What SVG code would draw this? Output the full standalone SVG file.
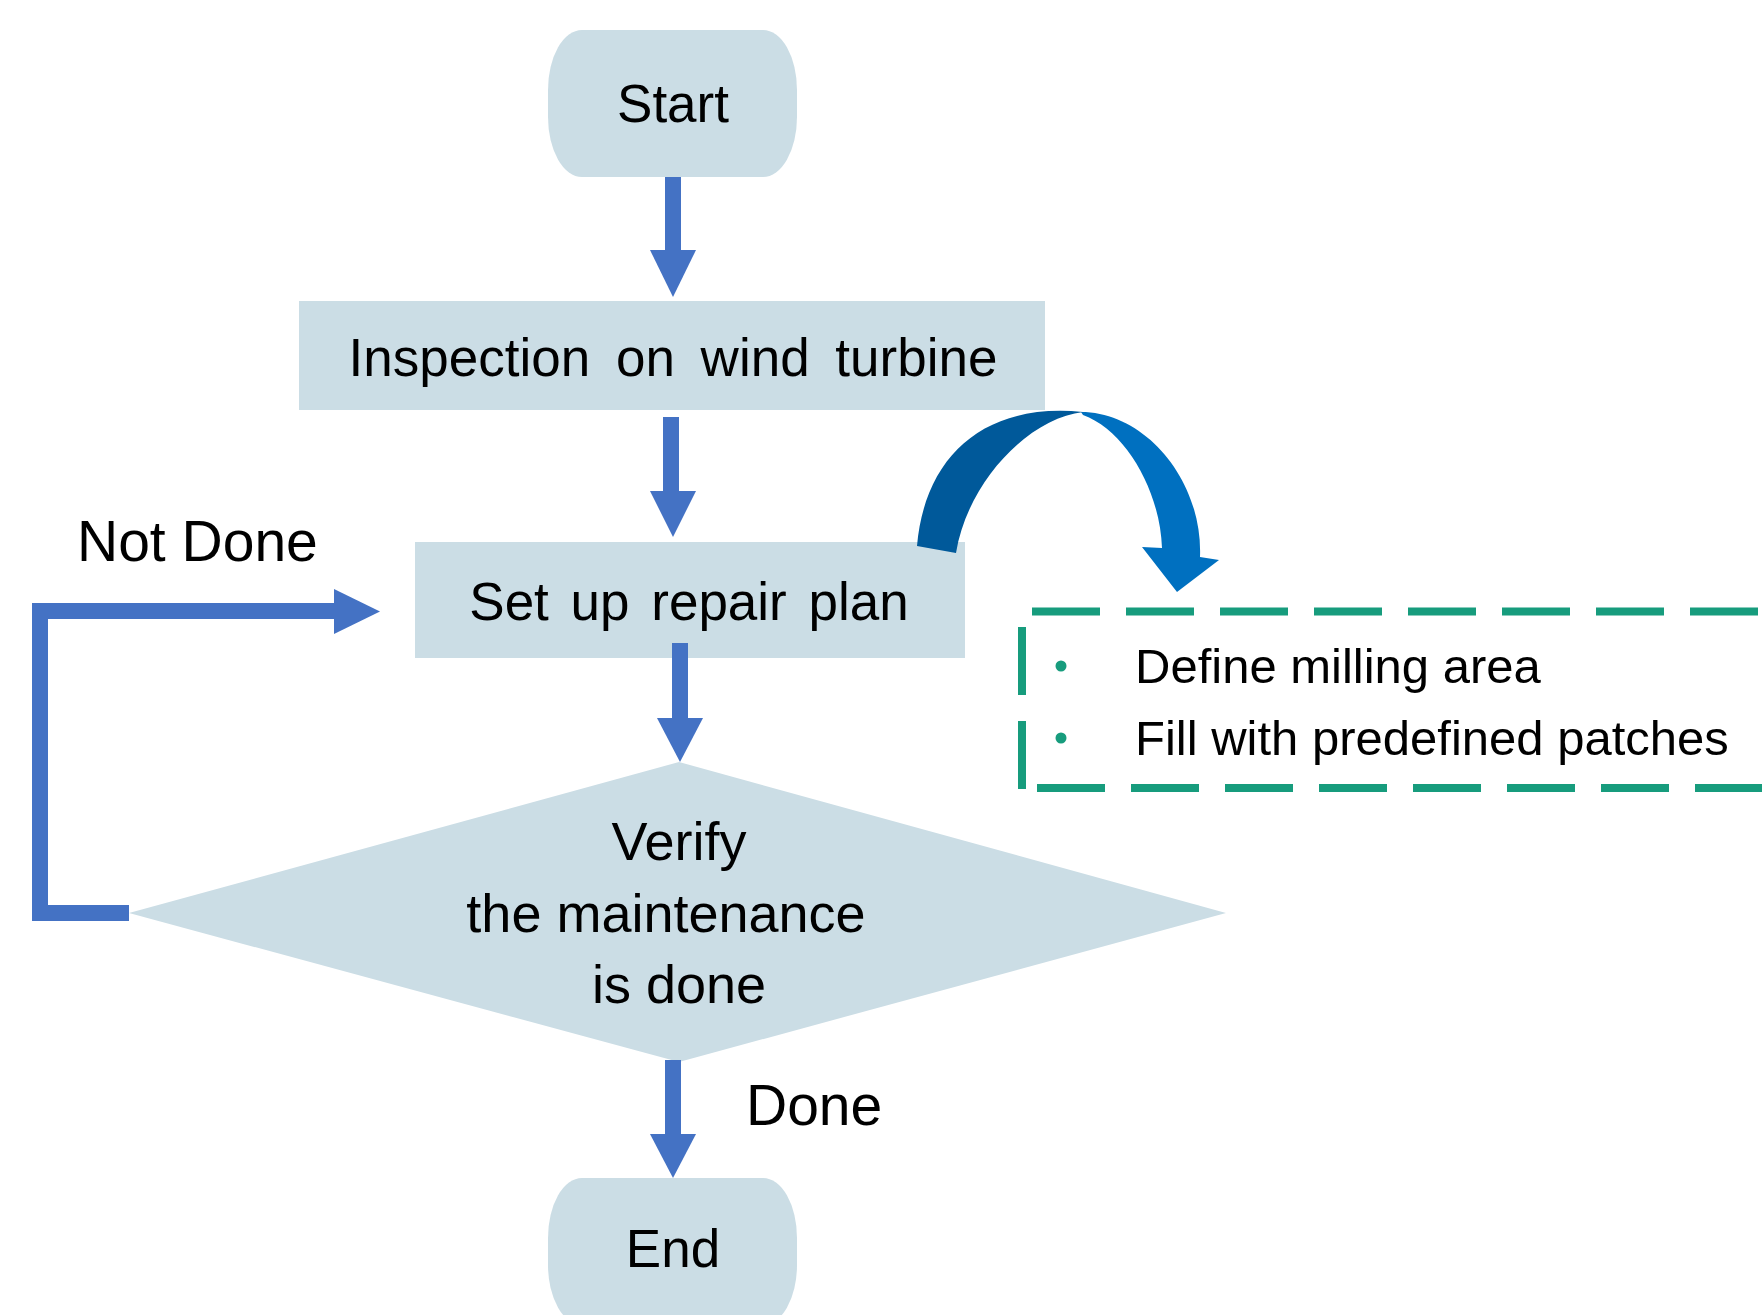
<svg xmlns="http://www.w3.org/2000/svg" width="1762" height="1315" viewBox="0 0 1762 1315">
<style>
.node{fill:#CBDDE5}
.t{font-family:"Liberation Sans",Arial,sans-serif;fill:#000}
.nt{font-size:53px;text-anchor:middle}
.dt{font-size:54px;text-anchor:middle}
.lbl{font-size:57px}
.bt{font-size:49px}
.shaft{stroke:#4472C4;stroke-width:16;fill:none}
.head{fill:#4472C4}
.dash{stroke:#179C7D;stroke-width:8;fill:none}
</style>
<rect width="1762" height="1315" fill="#fff"/>
<g id="start">
<rect class="node" x="548" y="30" width="249" height="147" rx="34" ry="60"/>
<text class="t nt" x="673" y="122">Start</text>
</g>
<g id="inspection">
<rect class="node" x="299" y="301" width="746" height="109"/>
<text class="t nt" x="673" y="376" word-spacing="11">Inspection on wind turbine</text>
</g>
<g id="repair">
<rect class="node" x="415" y="542" width="550" height="116"/>
<text class="t nt" x="689" y="620" word-spacing="7">Set up repair plan</text>
</g>
<g id="verify">
<polygon class="node" points="679,762 1226,913 679,1062 129,913"/>
<text class="t dt" x="679" y="860">Verify</text>
<text class="t dt" x="666" y="932">the maintenance</text>
<text class="t dt" x="679" y="1003">is done</text>
</g>
<g id="end">
<rect class="node" x="548" y="1178" width="249" height="147" rx="34" ry="60"/>
<text class="t nt" x="673" y="1267">End</text>
</g>
<g id="details">
<path class="dash" d="M1032,611.5 H1780" stroke-dasharray="68 26"/>
<path class="dash" d="M1037,788 H1780" stroke-dasharray="68 26"/>
<path class="dash" d="M1022,627 V790" stroke-dasharray="68 26"/>
<circle cx="1061" cy="666" r="5.5" fill="#179C7D"/>
<circle cx="1061" cy="738" r="5.5" fill="#179C7D"/>
<text class="t bt" x="1135" y="683">Define milling area</text>
<text class="t bt" x="1135" y="755">Fill with predefined patches</text>
</g>
<g id="connectors">
<path class="shaft" d="M673,177 V252"/>
<polygon class="head" points="650,250 696,250 673,297"/>
<path class="shaft" d="M671,417 V493"/>
<polygon class="head" points="650,491 696,491 673,537"/>
<path class="shaft" d="M680,643 V720"/>
<polygon class="head" points="657,718 703,718 680,762"/>
<path class="shaft" d="M673,1060 V1136"/>
<polygon class="head" points="650,1134 696,1134 673,1178"/>
<path class="shaft" d="M129,913 H40 V611 H336" stroke-width="15"/>
<polygon class="head" points="334,589 380,611.5 334,634"/>
<path d="M917,546 C925,455 985,402 1083,412 C1030,418 968,480 956,553 Z" fill="#00599A"/>
<path d="M1081,412 C1145,412 1203,480 1200,557 L1219,560 L1177,592 L1142,547 L1162,548 C1160,490 1125,430 1083,415 Z" fill="#0070C0"/>
</g>
<text class="t lbl" x="77" y="561">Not Done</text>
<text class="t lbl" x="746" y="1125">Done</text>
</svg>
